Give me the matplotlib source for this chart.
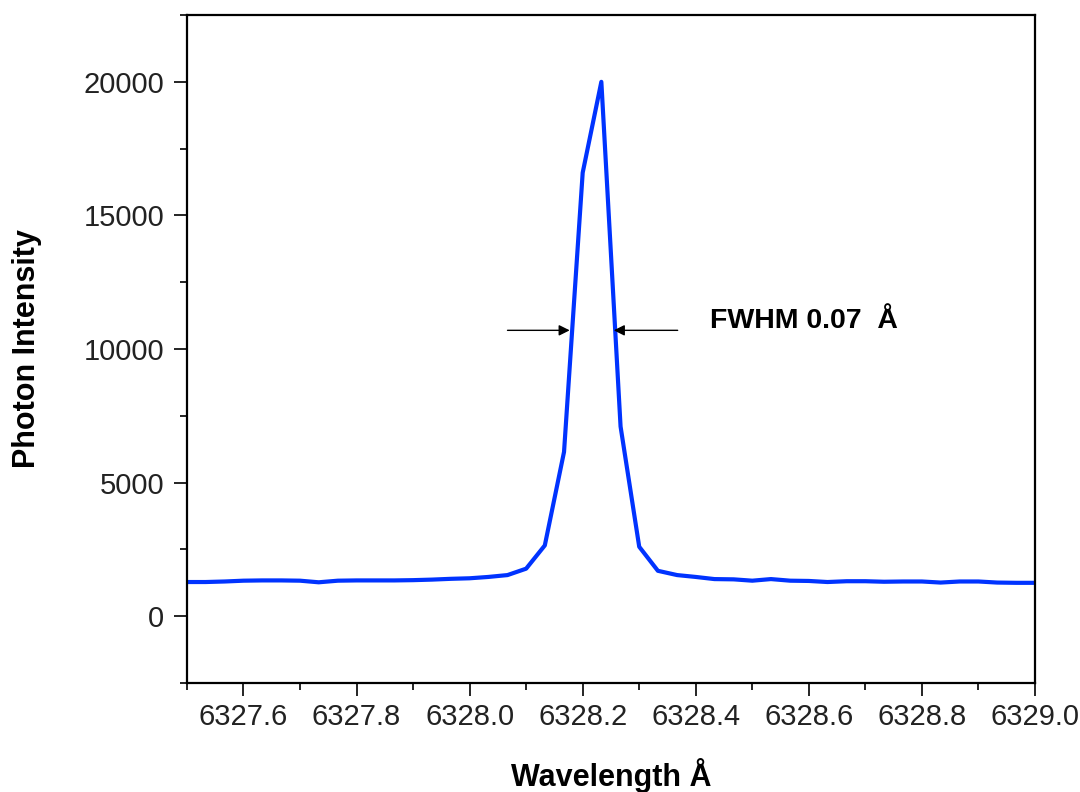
import matplotlib.pyplot as plt
from matplotlib.ticker import MultipleLocator

# measured spectrum (wavelength in Angstrom, counts)
wavelength = [6327.500, 6327.533, 6327.567, 6327.600, 6327.633, 6327.667,
              6327.700, 6327.733, 6327.767, 6327.800, 6327.833, 6327.867,
              6327.900, 6327.933, 6327.967, 6328.000, 6328.033, 6328.067,
              6328.100, 6328.133, 6328.167, 6328.200, 6328.233, 6328.267,
              6328.300, 6328.333, 6328.367, 6328.400, 6328.433, 6328.467,
              6328.500, 6328.533, 6328.567, 6328.600, 6328.633, 6328.667,
              6328.700, 6328.733, 6328.767, 6328.800, 6328.833, 6328.867,
              6328.900, 6328.933, 6328.967, 6329.000]
intensity = [1280, 1280, 1300, 1330, 1340, 1340,
             1330, 1270, 1330, 1340, 1340, 1340,
             1350, 1370, 1400, 1420, 1470, 1540,
             1780, 2650, 6150, 16600, 20000, 7100,
             2600, 1700, 1540, 1470, 1390, 1380,
             1330, 1390, 1330, 1320, 1280, 1310,
             1310, 1290, 1300, 1300, 1260, 1300,
             1300, 1260, 1250, 1250]

# FWHM marker: arrow tails / heads and the level they sit at
fwhm_level = 10700
left_arrow = (6328.067, 6328.177)
right_arrow = (6328.368, 6328.255)
fwhm_text = "FWHM 0.07  Å"

plt.rcParams['font.family'] = ['Liberation Sans', 'DejaVu Sans']

fig = plt.figure(figsize=(10.8, 7.92), dpi=100)
ax = fig.add_axes([0.1731, 0.1376, 0.7852, 0.8434])

ax.plot(wavelength, intensity, color='#0033ff', linewidth=3.0)

ax.annotate('', xy=(left_arrow[1], fwhm_level), xytext=(left_arrow[0], fwhm_level),
            arrowprops=dict(arrowstyle='-|>', color='black', lw=1.0,
                            mutation_scale=16, shrinkA=0, shrinkB=0))
ax.annotate('', xy=(right_arrow[1], fwhm_level), xytext=(right_arrow[0], fwhm_level),
            arrowprops=dict(arrowstyle='-|>', color='black', lw=1.0,
                            mutation_scale=16, shrinkA=0, shrinkB=0))
ax.text(6328.425, fwhm_level + 350, fwhm_text, fontsize=20.5, fontweight='bold',
        va='center', ha='left')

ax.set_xlim(6327.5, 6329.0)
ax.set_ylim(-2500, 22500)
ax.xaxis.set_minor_locator(MultipleLocator(0.1))
ax.yaxis.set_minor_locator(MultipleLocator(2500))
ax.set_xticks([6327.6, 6327.8, 6328.0, 6328.2, 6328.4, 6328.6, 6328.8, 6329.0])
ax.set_xticklabels(['6327.6', '6327.8', '6328.0', '6328.2', '6328.4',
                    '6328.6', '6328.8', '6329.0'])
ax.set_yticks([0, 5000, 10000, 15000, 20000])

ax.tick_params(which='major', direction='out', length=9.5, width=1.2,
               labelsize=21, labelcolor='#222222')
ax.tick_params(axis='y', which='major', pad=7)
ax.tick_params(axis='x', which='major', pad=5)
ax.tick_params(which='minor', direction='out', length=5, width=1.2)
for side in ['left', 'bottom', 'top', 'right']:
    ax.spines[side].set_linewidth(1.6)

ax.set_xlabel('Wavelength Å', fontsize=22, fontweight='bold', labelpad=19)
ax.set_ylabel('Photon Intensity', fontsize=22, fontweight='bold', labelpad=30)

fig.savefig('out.png', dpi=100)
